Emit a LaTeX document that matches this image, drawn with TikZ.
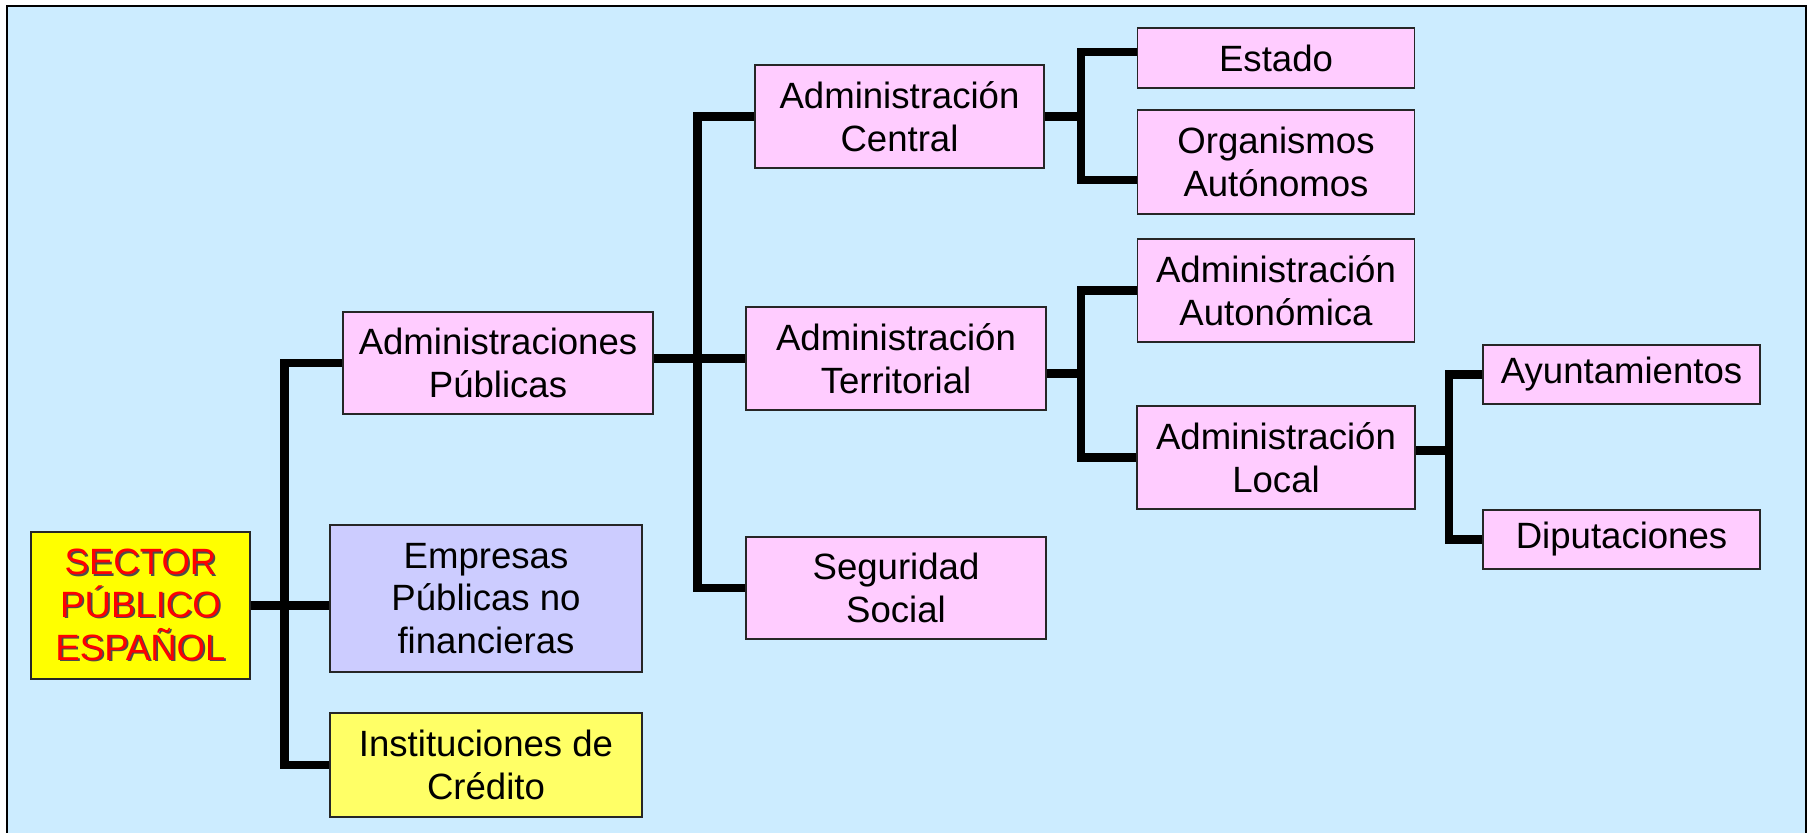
\documentclass[tikz,border=0pt]{standalone}
\usepackage{fontspec}
\setmainfont{Liberation Sans}
\usepackage{xcolor}
\usepackage{tikz}
\usetikzlibrary{calc,positioning}
\definecolor{sectorBack}{HTML}{CCECFF}
\definecolor{sectorPink}{HTML}{FFCCFF}
\definecolor{sectorLilac}{HTML}{CCCCFF}
\definecolor{sectorYellow}{HTML}{FFFF00}
\definecolor{sectorPale}{HTML}{FFFF66}
\newcommand\redshadow[1]{\makebox[0pt][l]{\hspace{0.5pt}\raisebox{-0.5pt}{\color{black!70}#1}}{\color{red}#1}}
\tikzset{
  org box/.style={draw=black!85, line width=0.45pt, fill=sectorPink,
    align=center, inner sep=0pt, font=\fontsize{10.4}{12.2}\selectfont},
  branch/.style={line width=2.5pt, draw=black, line join=miter}
}

\begin{document}
\begin{tikzpicture}[x=0.01cm, y=-0.01cm]
  \useasboundingbox (0,0) rectangle (1810,832);
  \draw[fill=sectorBack, line width=0.6pt] (7,6) rectangle (1806,850);

  \node[org box, fill=sectorYellow, minimum width=2.19cm, minimum height=1.47cm]
    (sector) at (140.5,605.5)
    {\redshadow{SECTOR}\\\redshadow{PÚBLICO}\\\redshadow{ESPAÑOL}};
  \node[org box, minimum width=3.1cm, minimum height=1.02cm] (pub) at (498,363)
    {Administraciones\\Públicas};
  \node[org box, fill=sectorLilac, minimum width=3.12cm, minimum height=1.47cm]
    (emp) at (486,598.5) {Empresas\\Públicas no\\financieras};
  \node[org box, fill=sectorPale, minimum width=3.12cm, minimum height=1.04cm]
    (inst) at (486,765) {Instituciones de\\Crédito};

  \node[org box, minimum width=2.89cm, minimum height=1.03cm] (central)
    at (899.5,116.5) {Administración\\Central};
  \node[org box, minimum width=3.0cm, minimum height=1.03cm] (terr)
    at (896,358.5) {Administración\\Territorial};
  \node[org box, minimum width=3.0cm, minimum height=1.02cm] (seg)
    at (896,588) {Seguridad\\Social};

  \node[org box, minimum width=2.77cm, minimum height=0.6cm] (estado)
    at (1276,58) {Estado};
  \node[org box, minimum width=2.77cm, minimum height=1.04cm] (organ)
    at (1276,162) {Organismos\\Autónomos};
  \node[org box, minimum width=2.77cm, minimum height=1.03cm] (auto)
    at (1276,290.5) {Administración\\Autonómica};
  \node[org box, minimum width=2.78cm, minimum height=1.03cm] (local)
    at (1276,457.5) {Administración\\Local};

  \node[org box, minimum width=2.77cm, minimum height=0.59cm] (ayunt)
    at (1621.5,374.5) {Ayuntamientos};
  \node[org box, minimum width=2.77cm, minimum height=0.59cm] (dipu)
    at (1621.5,539.5) {Diputaciones};

  % connectors
  \draw[branch] (sector.east) -- (sector.east -| emp.west);
  \draw[branch] (pub.west) -- ++(-58,0) |- (inst.west);

  \draw[branch] (terr.west -| pub.east) -- (terr.west);
  \draw[branch] (central.west) -- ++(-57,0) |- (seg.west);

  \draw[branch] (central.east) -- ++(36,0) coordinate (cbar);
  \draw[branch] ([yshift=0.06cm]estado.west) -| (cbar) |- ([yshift=-0.18cm]organ.west);

  \draw[branch] ([yshift=-0.15cm]terr.east) -- ++(34,0) coordinate (tbar);
  \draw[branch] (auto.west) -| (tbar) |- (local.west);

  \draw[branch] ([yshift=0.07cm]local.east) -- ++(33,0) coordinate (lbar);
  \draw[branch] (ayunt.west) -| (lbar) |- (dipu.west);
\end{tikzpicture}
\end{document}
